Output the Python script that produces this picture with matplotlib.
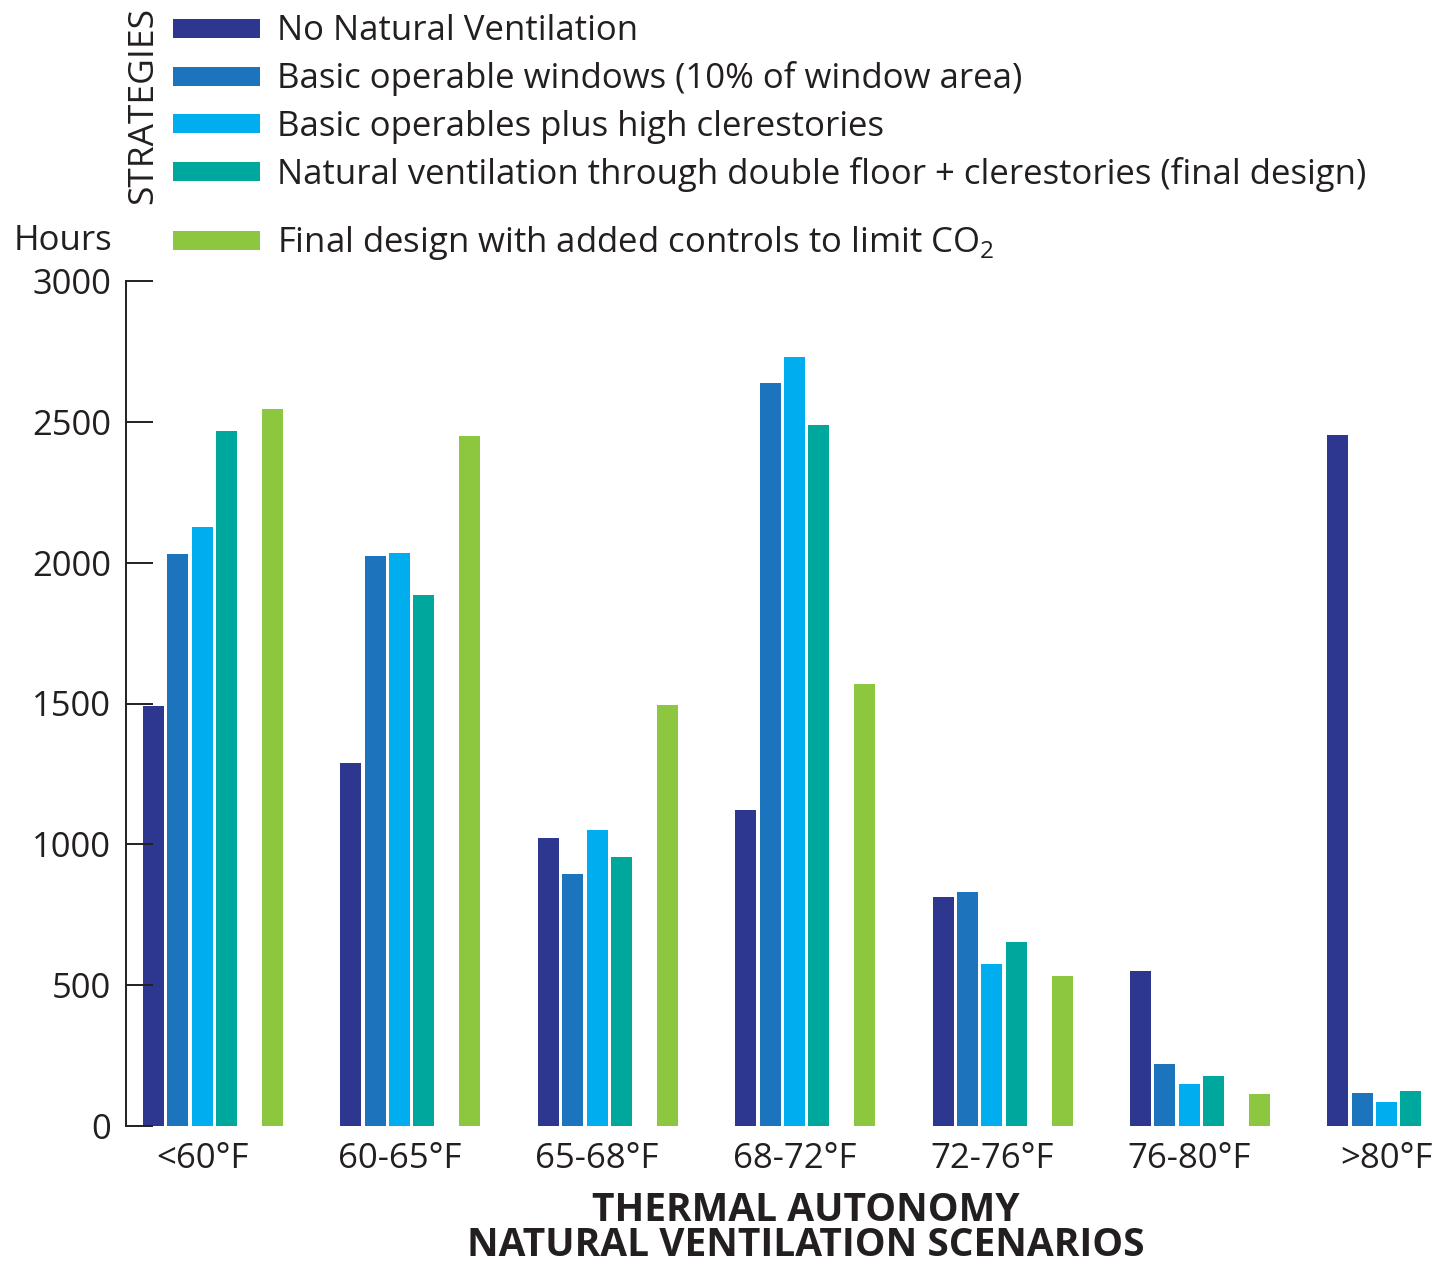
import matplotlib
matplotlib.use("Agg")
import matplotlib.pyplot as plt
from matplotlib.patches import Rectangle
import numpy as np

plt.rcParams["font.family"] = ["Open Sans", "DejaVu Sans"]
plt.rcParams["mathtext.fontset"] = "custom"
plt.rcParams["mathtext.rm"] = "Open Sans"

# ---- data -----------------------------------------------------------------
categories = ["<60°F", "60-65°F", "65-68°F", "68-72°F", "72-76°F", "76-80°F", ">80°F"]

series_names = [
    "No Natural Ventilation",
    "Basic operable windows (10% of window area)",
    "Basic operables plus high clerestories",
    "Natural ventilation through double floor + clerestories (final design)",
    "Final design with added controls to limit CO$_{\\mathregular{2}}$",
]

no_natural_vent = [1491, 1287, 1021, 1123, 813, 550, 2455]
basic_windows = [2031, 2024, 895, 2638, 830, 219, 116]
plus_clerestories = [2127, 2034, 1050, 2730, 575, 150, 86]
double_floor = [2468, 1886, 955, 2489, 654, 176, 123]
final_co2_controls = [2544, 2451, 1495, 1569, 533, 114, np.nan]

yticks = [0, 500, 1000, 1500, 2000, 2500, 3000]

colors = ["#2E3790", "#1C75BC", "#00AEEF", "#00A79D", "#8DC63F"]
ink = "#231F20"

series = [no_natural_vent, basic_windows, plus_clerestories, double_floor, final_co2_controls]

# ---- figure ---------------------------------------------------------------
W, H = 1440, 1266
fig = plt.figure(figsize=(W / 100, H / 100), dpi=100)

ax_left, ax_bottom, ax_top = 126, 1126, 281
ax = fig.add_axes([ax_left / W, 1 - ax_bottom / H, (W - ax_left) / W, (ax_bottom - ax_top) / H])

group_px = 197.4
first_bar_px = 143
slot_offsets = np.array([0, 24.4, 48.7, 73.0, 119.0]) / group_px
bar_w = 21 / group_px
x = np.arange(len(categories))

for vals, off, c in zip(series, slot_offsets, colors):
    ax.bar(x + off, vals, width=bar_w, align="edge", color=c, linewidth=0)

ax.set_xlim((ax_left - first_bar_px) / group_px, (W - first_bar_px) / group_px)
ax.set_ylim(0, 3000)

ax.set_xticks(x + 59 / group_px)
ax.set_xticklabels(categories, fontsize=25, color=ink)
ax.tick_params(axis="x", length=0, pad=11.5)

ax.set_yticks(yticks)
ax.set_yticklabels([str(t) for t in yticks], fontsize=24.8, color=ink)
ax.tick_params(axis="y", direction="in", length=19.4, width=1.4, color=ink, pad=10.5)

for s in ["top", "right", "bottom"]:
    ax.spines[s].set_visible(False)
ax.spines["left"].set_bounds(0, 3000)
ax.spines["left"].set_linewidth(1.4)
ax.spines["left"].set_color(ink)
ax.patch.set_alpha(0)

# ---- legend ---------------------------------------------------------------
legend_y = [28, 76, 123, 171, 240]
for name, c, yc in zip(series_names, colors, legend_y):
    fig.patches.append(Rectangle((173 / W, 1 - (yc + 9.5) / H), 87 / W, 19 / H,
                                 transform=fig.transFigure, facecolor=c, edgecolor="none"))
    fig.text(277 / W, 1 - (yc + 12.5) / H, name, fontsize=25, color=ink, ha="left", va="baseline")

fig.text(143 / W, 1 - 105 / H, "STRATEGIES", rotation=90, fontsize=25.5, color=ink,
         ha="center", va="center")
fig.text(14 / W, 1 - 250 / H, "Hours", fontsize=25, color=ink, ha="left", va="baseline")

# ---- axis title -----------------------------------------------------------
fig.text(806 / W, 1 / H, "THERMAL AUTONOMY\nNATURAL VENTILATION SCENARIOS", fontsize=28,
         fontweight="bold", color=ink, ha="center", va="bottom", linespacing=0.88,
         multialignment="center")

fig.savefig("out.png", dpi=100, facecolor="white")
